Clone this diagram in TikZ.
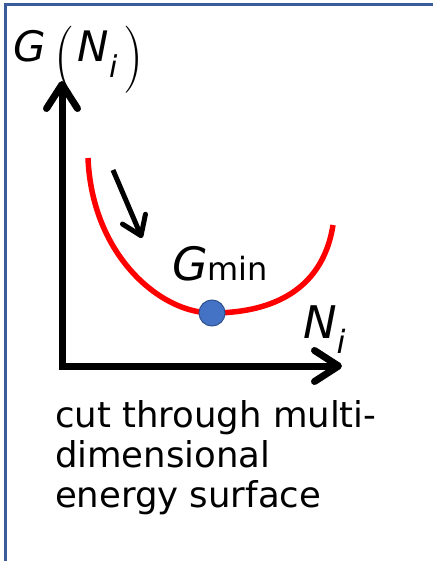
\documentclass[tikz,border=0pt]{standalone}
\usepackage{fontspec}
\setmainfont{DejaVu Sans}
\newfontfamily\parenfont{Latin Modern Roman}
\usetikzlibrary{arrows.meta}
\definecolor{frameblue}{HTML}{3A5C9C}
\definecolor{dotblue}{HTML}{4472C4}
\definecolor{dotedge}{HTML}{2F528F}
\definecolor{curvered}{HTML}{FF0000}
\newcommand{\tallparen}[1]{\raisebox{-15pt}{\scalebox{1.35}[1.6]{\parenfont #1}}}
\begin{document}
\begin{tikzpicture}[x=1pt,y=-1pt,
  framestyle/.style={frameblue, line width=3pt},
  axisstyle/.style={line width=7pt, line join=miter,
    {Straight Barb[length=24pt,width=31pt,round]}-{Straight Barb[length=24pt,width=31pt,round]}},
  curvestyle/.style={curvered, line width=5.5pt},
  hintarrow/.style={line width=5pt, -{Straight Barb[length=18pt,width=25pt,round]}},
  label/.style={anchor=base west, inner sep=0pt, outer sep=0pt}]
\useasboundingbox (0,0) rectangle (433,561);
% frame
\coordinate (fr1) at (433,5);
\coordinate (fr2) at (5,5);
\coordinate (fr3) at (5,561);
\draw[framestyle] (fr1) -- (fr2) -- (fr3);
% axes
\coordinate (ytop) at (62,81);
\coordinate (origin) at (62,366);
\coordinate (xend) at (342,366);
\draw[axisstyle] (ytop) -- (origin) -- (xend);
% curve and minimum dot
\coordinate (gminpt) at (212,313);
\coordinate (cstart) at (88,158);
\coordinate (cend) at (333,225);
\draw[curvestyle] (cstart) .. controls (92,255) and (160,313) .. (gminpt)
  .. controls (265,313) and (322,295) .. (cend);
\node[circle, fill=dotblue, draw=dotedge, line width=1pt, minimum size=26pt, inner sep=0pt] (gmin) at (gminpt) {};
% small arrow
\coordinate (s1) at (113,170);
\coordinate (s2) at (142,238);
\draw[hintarrow] (s1) -- (s2);
% labels
\node[label] (glabel) at (13,62) {\fontsize{42}{42}\selectfont\itshape G\hspace{9pt}\upshape\tallparen{(}\hspace{3pt}\itshape N\raisebox{-16pt}{\fontsize{30}{30}\selectfont i}\hspace{6pt}\upshape\tallparen{)}};
\node[label] (gminlabel) at (172,280) {\fontsize{46}{46}\selectfont\itshape G\upshape\fontsize{32}{32}\selectfont min};
\node[label] (nlabel) at (303,338) {\fontsize{45}{45}\selectfont\itshape N\raisebox{-15pt}{\fontsize{32}{32}\selectfont i}};
\node[label, align=left, font=\fontsize{35.5}{40}\selectfont] (caption) at (55,507) {cut through multi-\\dimensional\\energy surface};
\end{tikzpicture}
\end{document}
